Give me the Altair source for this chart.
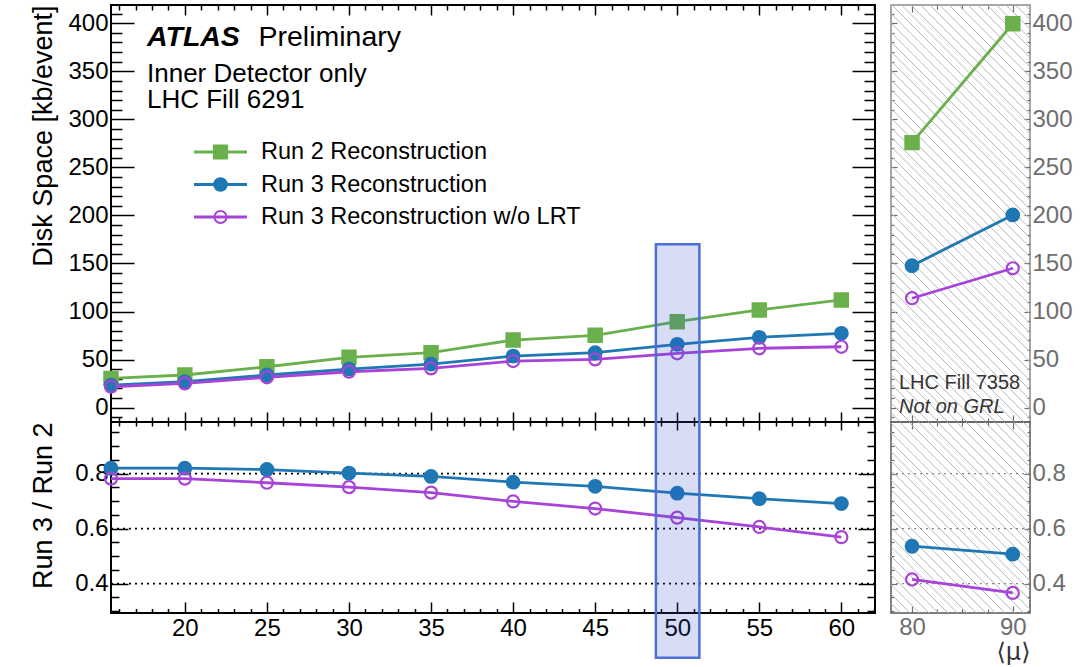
import altair as alt
import numpy as np
import pandas as pd

FONT = "Liberation Sans"

# ---------------- data ----------------
series_names = ["Run 2 Reconstruction", "Run 3 Reconstruction", "Run 3 Reconstruction w/o LRT"]
series_colors = ["#6AB04C", "#1F77B4", "#A843D9"]
series_fill = ["#6AB04C", "#1F77B4", "transparent"]
series_shape = ["square", "circle", "circle"]
series_size = [175, 145, 140]

mu_fill6291 = [15.5, 20, 25, 30, 35, 40, 45, 50, 55, 60]
disk_run2 = [30.4, 33.9, 42.5, 52.3, 57.1, 70.3, 75.2, 89.4, 101.6, 112.0]
disk_run3 = [23.4, 26.9, 33.9, 40.1, 45.3, 53.6, 57.1, 65.8, 73.1, 77.3]
disk_run3_nolrt = [21.7, 25.2, 31.5, 37.3, 40.8, 48.4, 50.2, 56.5, 61.7, 63.3]
ratio_run3 = [0.820, 0.820, 0.815, 0.802, 0.790, 0.769, 0.754, 0.729, 0.709, 0.691]
ratio_run3_nolrt = [0.782, 0.782, 0.767, 0.751, 0.731, 0.699, 0.673, 0.640, 0.606, 0.569]

mu_fill7358 = [80, 90]
disk_run2_7358 = [275.8, 399.5]
disk_run3_7358 = [147.7, 200.5]
disk_run3_nolrt_7358 = [113.8, 145.0]
ratio_run3_7358 = [0.536, 0.507]
ratio_run3_nolrt_7358 = [0.415, 0.366]

ratio_grid = [0.4, 0.6, 0.8]
highlight_mu = [48.7, 51.35]
highlight_ratio = [0.13, 1.635]

# ---------------- layout constants ----------------
W_L, W_R, H_T, H_B = 764, 139, 417, 191
X_L, X_R = [15.5, 62.05], [77.91, 91.71]
Y_T, Y_B = [-15, 419], [0.293, 0.988]

xvals_L = list(range(16, 63))
xvals_R = [80, 82.5, 85, 87.5, 90]
yvals_T = list(range(-10, 420, 10))
yvals_B = [round(0.30 + 0.05 * i, 2) for i in range(14)]

MAJ_X = "datum.value % 5 === 0"
MAJ_XR = "datum.value % 10 === 0"
MAJ_YT = "datum.value % 50 === 0"
MAJ_YB = "abs(datum.value * 5 - round(datum.value * 5)) < 0.001"


def long_df(mu, names, cols):
    rows = []
    for n, vals in zip(names, cols):
        for m, v in zip(mu, vals):
            rows.append({"mu": m, "val": v, "series": n})
    return pd.DataFrame(rows)


df_top = long_df(mu_fill6291, series_names, [disk_run2, disk_run3, disk_run3_nolrt])
df_bot = long_df(mu_fill6291, series_names[1:], [ratio_run3, ratio_run3_nolrt])
df_top_r = long_df(mu_fill7358, series_names, [disk_run2_7358, disk_run3_7358, disk_run3_nolrt_7358])
df_bot_r = long_df(mu_fill7358, series_names[1:], [ratio_run3_7358, ratio_run3_nolrt_7358])

color_sc = alt.Scale(domain=series_names, range=series_colors)
fill_sc = alt.Scale(domain=series_names, range=series_fill)
shape_sc = alt.Scale(domain=series_names, range=series_shape)
size_sc = alt.Scale(domain=series_names, range=series_size)


def sc(dom):
    return alt.Scale(domain=dom, nice=False, zero=False)


def tick_axis(orient, values, major, big, small, color="black", labels=False, fmt="d",
              pad=3, lsize=24, tw=1.5, **extra):
    kw = dict(orient=orient, values=values, domain=False, grid=False,
              tickSize={"expr": f"({major}) ? {-big} : {-small}"},
              tickColor=color, tickWidth=tw, labels=labels)
    if labels:
        kw.update(labelExpr=f"({major}) ? datum.label : ''", format=fmt,
                  labelPadding=big + pad, labelFont=FONT, labelFontSize=lsize,
                  labelColor=color, labelOverlap=False, labelFlush=False, labelBound=False)
    if "title" not in extra:
        extra["title"] = None
    kw.update(extra)
    return alt.Axis(**kw)


def series_layers(df, xdom, ydom, ax_bottom, ax_left, ax_top, ax_right):
    base = alt.Chart(df)
    lines = base.mark_line(strokeWidth=2.8).encode(
        x=alt.X("mu:Q", scale=sc(xdom), axis=ax_bottom),
        y=alt.Y("val:Q", scale=sc(ydom), axis=ax_left),
        color=alt.Color("series:N", scale=color_sc, legend=None),
    )
    pts = base.mark_point(opacity=1, strokeWidth=2.2, clip=False).encode(
        x=alt.X("mu:Q", scale=sc(xdom), axis=None),
        y=alt.Y("val:Q", scale=sc(ydom), axis=None),
        shape=alt.Shape("series:N", scale=shape_sc, legend=None),
        fill=alt.Fill("series:N", scale=fill_sc, legend=None),
        stroke=alt.Stroke("series:N", scale=color_sc, legend=None),
        size=alt.Size("series:N", scale=size_sc, legend=None),
    )
    mirror = base.mark_point(opacity=0).encode(
        x=alt.X("mu:Q", scale=sc(xdom), axis=ax_top),
        y=alt.Y("val:Q", scale=sc(ydom), axis=ax_right),
    )
    return [lines, pts, mirror]


def text_at(t, x, y, size, color="black", style="normal", weight="normal", align="left"):
    return alt.Chart(pd.DataFrame({"t": [t]})).mark_text(
        align=align, baseline="alphabetic", font=FONT, fontSize=size,
        fontStyle=style, fontWeight=weight, color=color,
    ).encode(text="t:N", x=alt.value(x), y=alt.value(y))


def hatch(xdom, ydom, w, h, step=9.5):
    s = np.arange(-h, w + step, step)
    d = pd.DataFrame({
        "x1": xdom[0] + s / w * (xdom[1] - xdom[0]),
        "x2": xdom[0] + (s + h) / w * (xdom[1] - xdom[0]),
        "y1": [ydom[1]] * len(s),
        "y2": [ydom[0]] * len(s),
    })
    return alt.Chart(d).mark_rule(clip=True, color="#b8b8b8", strokeWidth=1).encode(
        x=alt.X("x1:Q", scale=sc(xdom), axis=None), x2="x2:Q",
        y=alt.Y("y1:Q", scale=sc(ydom), axis=None), y2="y2:Q",
    )


title_kw = dict(titleX=-60, titleY=0, titleAlign="right", titleBaseline="alphabetic",
                titleAngle=270, titleFont=FONT, titleFontSize=27, titleFontWeight="normal",
                titleColor="black")

# ---------------- top left: disk space ----------------
tl = series_layers(
    df_top, X_L, Y_T,
    tick_axis("bottom", xvals_L, MAJ_X, 10, 5),
    tick_axis("left", yvals_T, MAJ_YT, 23, 11, labels=True, fmt="d",
              title="Disk Space [kb/event]", **title_kw),
    tick_axis("top", xvals_L, MAJ_X, 10, 5),
    tick_axis("right", yvals_T, MAJ_YT, 23, 11),
)

leg_df = pd.DataFrame({"series": series_names, "row": [0, 1, 2]})
leg_y = alt.Y("row:Q", scale=alt.Scale(domain=[0, 2], range=[147, 212]), axis=None)
leg_line = alt.Chart(leg_df).mark_rule(strokeWidth=3).encode(
    x=alt.value(83), x2=alt.value(136), y=leg_y,
    color=alt.Color("series:N", scale=color_sc, legend=None))
leg_pt = alt.Chart(leg_df).mark_point(opacity=1, strokeWidth=2).encode(
    x=alt.value(109.5), y=leg_y,
    shape=alt.Shape("series:N", scale=shape_sc, legend=None),
    fill=alt.Fill("series:N", scale=fill_sc, legend=None),
    stroke=alt.Stroke("series:N", scale=color_sc, legend=None),
    size=alt.Size("series:N", scale=alt.Scale(domain=series_names, range=[150, 130, 120]), legend=None))
leg_txt = alt.Chart(leg_df).mark_text(align="left", baseline="middle", font=FONT,
                                      fontSize=23.5, color="black").encode(
    x=alt.value(150), y=leg_y, text="series:N")

top_left = alt.layer(
    *tl,
    text_at("ATLAS", 36, 41, 28.5, style="italic", weight="bold"),
    text_at("Preliminary", 147.5, 41, 28.5),
    text_at("Inner Detector only", 36, 77, 26),
    text_at("LHC Fill 6291", 36, 103, 26),
    leg_line, leg_pt, leg_txt,
).resolve_scale(x="independent", y="independent").properties(
    width=W_L, height=H_T, view=alt.ViewBackground(stroke="black", strokeWidth=2))

# ---------------- bottom left: ratio ----------------
bl = series_layers(
    df_bot, X_L, Y_B,
    tick_axis("bottom", xvals_L, MAJ_X, 11, 4.5, labels=True, fmt="d", pad=3),
    tick_axis("left", yvals_B, MAJ_YB, 17, 8, labels=True, fmt=".1f",
              title="Run 3 / Run 2", **title_kw),
    tick_axis("top", xvals_L, MAJ_X, 8, 4),
    tick_axis("right", yvals_B, MAJ_YB, 17, 8),
)
grid_l = alt.Chart(pd.DataFrame({"g": ratio_grid})).mark_rule(
    strokeDash=[2, 4], strokeWidth=1.6, color="black").encode(
    y=alt.Y("g:Q", scale=sc(Y_B), axis=None))
hl = alt.Chart(pd.DataFrame({"x1": [highlight_mu[0]], "x2": [highlight_mu[1]],
                             "y1": [highlight_ratio[0]], "y2": [highlight_ratio[1]]})).mark_rect(
    clip=False, fill="#3355cc", fillOpacity=0.2, stroke="#4f6fd8", strokeWidth=2.5).encode(
    x=alt.X("x1:Q", scale=sc(X_L), axis=None), x2="x2:Q",
    y=alt.Y("y1:Q", scale=sc(Y_B), axis=None), y2="y2:Q")

bot_left = alt.layer(grid_l, *bl, hl).resolve_scale(
    x="independent", y="independent").properties(
    width=W_L, height=H_B, view=alt.ViewBackground(stroke="black", strokeWidth=2))

# ---------------- top right: Fill 7358 ----------------
GR = "#6e6e6e"
tr = series_layers(
    df_top_r, X_R, Y_T,
    tick_axis("bottom", xvals_R, MAJ_XR, 7, 4, color=GR, tw=1.2),
    tick_axis("left", yvals_T, MAJ_YT, 6, 3, color=GR, tw=1.2),
    tick_axis("top", xvals_R, MAJ_XR, 7, 4, color=GR, tw=1.2),
    tick_axis("right", yvals_T, MAJ_YT, 6, 3, color=GR, tw=1.2, labels=True, fmt="d", pad=2),
)
top_right = alt.layer(
    hatch(X_R, Y_T, W_R, H_T), *tr,
    text_at("LHC Fill 7358", 8, 384, 20, color="#333333"),
    text_at("Not on GRL", 8, 408, 20, color="#333333", style="italic"),
).resolve_scale(x="independent", y="independent").properties(
    width=W_R, height=H_T, view=alt.ViewBackground(stroke="#8a8a8a", strokeWidth=1.5))

# ---------------- bottom right: ratio Fill 7358 ----------------
br = series_layers(
    df_bot_r, X_R, Y_B,
    tick_axis("bottom", xvals_R, MAJ_XR, 7, 4, color=GR, tw=1.2, labels=True, fmt="d", pad=2,
              title="⟨μ⟩", titleX=W_R, titleY=46, titleAlign="right", titleBaseline="alphabetic",
              titleAngle=0, titleFont="DejaVu Sans", titleFontSize=24, titleFontWeight="normal",
              titleColor="#333333"),
    tick_axis("left", yvals_B, MAJ_YB, 6, 3, color=GR, tw=1.2),
    tick_axis("top", xvals_R, MAJ_XR, 7, 4, color=GR, tw=1.2),
    tick_axis("right", yvals_B, MAJ_YB, 6, 3, color=GR, tw=1.2, labels=True, fmt=".1f", pad=2),
)
grid_r = alt.Chart(pd.DataFrame({"g": ratio_grid})).mark_rule(
    strokeDash=[2, 4], strokeWidth=1.4, color="#888888").encode(
    y=alt.Y("g:Q", scale=sc(Y_B), axis=None))
bot_right = alt.layer(hatch(X_R, Y_B, W_R, H_B), grid_r, *br).resolve_scale(
    x="independent", y="independent").properties(
    width=W_R, height=H_B, view=alt.ViewBackground(stroke="#555555", strokeWidth=1.5))

chart = alt.concat(
    top_left, top_right, bot_left, bot_right,
    columns=2, spacing={"row": 0, "column": 16}, bounds="flush", align="each",
).properties(
    padding={"left": 28, "top": 0, "right": 5, "bottom": 2}
).configure(font=FONT, background="white")

chart.save("out.html", embed_options={"renderer": "svg", "actions": False})
